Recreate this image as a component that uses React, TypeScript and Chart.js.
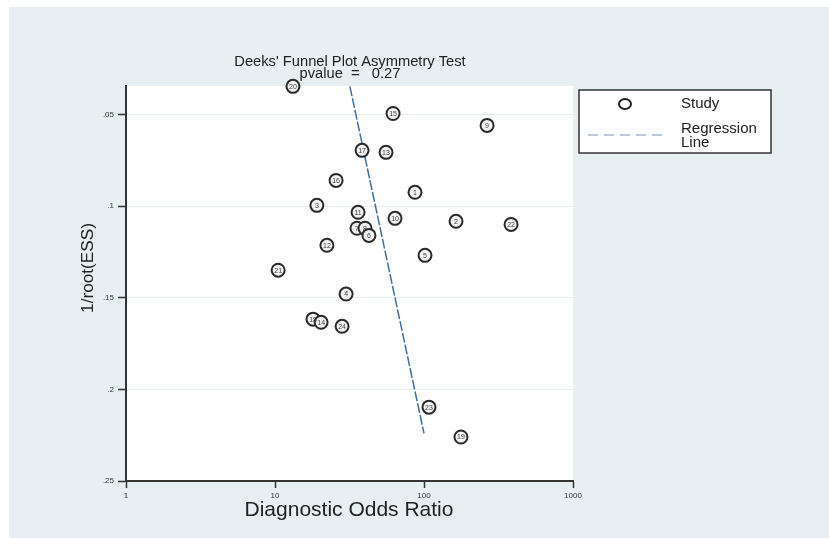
import React, { useEffect, useRef } from "react";
import { Chart, registerables } from "chart.js";

Chart.register(...registerables);

const studyIds = ["20", "15", "9", "17", "13", "16", "1", "3", "11", "10", "2", "22", "7", "8", "6", "12", "5", "21", "4", "18", "14", "24", "23", "19"];
const studyDOR = [13.2, 62, 265, 38.4, 55.6, 25.7, 87, 19.1, 36.1, 63.9, 164, 384, 35.5, 40.2, 42.7, 22.3, 101.6, 10.5, 30, 18, 20.4, 28.2, 108, 177];
const studyInvRootESS = [0.0347, 0.0495, 0.056, 0.0696, 0.0707, 0.086, 0.0925, 0.0996, 0.1034, 0.1067, 0.1083, 0.11, 0.1121, 0.1121, 0.116, 0.1214, 0.1269, 0.135, 0.148, 0.1617, 0.1634, 0.1656, 0.2097, 0.226];
const regressionDOR = [31.8, 100];
const regressionInvRootESS = [0.0347, 0.224];
const xTicks = [1, 10, 100, 1000];
const yTicks = [0.05, 0.1, 0.15, 0.2, 0.25];
const titleText = "Deeks' Funnel Plot Asymmetry Test";
const pvalueText = "pvalue  =   0.27";
const xTitle = "Diagnostic Odds Ratio";
const yTitle = "1/root(ESS)";

const FONT = "'Liberation Sans', Arial, sans-serif";

const decorPlugin = {
  id: "decor",
  beforeDraw(chart: any) {
    const { ctx, chartArea } = chart;
    ctx.save();
    ctx.fillStyle = "#ffffff";
    ctx.fillRect(chartArea.left, chartArea.top, chartArea.right - chartArea.left, chartArea.bottom - chartArea.top);
    ctx.restore();
  },
  afterDraw(chart: any) {
    const { ctx } = chart;
    ctx.save();
    const meta = chart.getDatasetMeta(0);
    ctx.fillStyle = "#444";
    ctx.font = `7px ${FONT}`;
    ctx.textAlign = "center";
    ctx.textBaseline = "middle";
    meta.data.forEach((el: any, i: number) => {
      ctx.fillText(studyIds[i], el.x, el.y + 0.5);
    });
    ctx.fillStyle = "#222";
    ctx.font = `14.7px ${FONT}`;
    ctx.fillText(titleText, 350, 62);
    ctx.fillText(pvalueText, 350, 74);
    ctx.font = `21px ${FONT}`;
    ctx.fillText(xTitle, 349, 510);
    ctx.save();
    ctx.translate(88, 268);
    ctx.rotate(-Math.PI / 2);
    ctx.font = `17.2px ${FONT}`;
    ctx.fillText(yTitle, 0, 0);
    ctx.restore();
    // legend
    ctx.fillStyle = "#ffffff";
    ctx.fillRect(579, 90, 192, 63);
    ctx.strokeStyle = "#333";
    ctx.lineWidth = 1.5;
    ctx.strokeRect(579, 90, 192, 63);
    ctx.beginPath();
    ctx.ellipse(625, 104, 6, 5, 0, 0, Math.PI * 2);
    ctx.lineWidth = 2;
    ctx.strokeStyle = "#222";
    ctx.stroke();
    ctx.beginPath();
    ctx.setLineDash([10, 6]);
    ctx.strokeStyle = "#b9c9d8";
    ctx.lineWidth = 2;
    ctx.moveTo(588, 135);
    ctx.lineTo(668, 135);
    ctx.stroke();
    ctx.setLineDash([]);
    ctx.fillStyle = "#222";
    ctx.font = `15px ${FONT}`;
    ctx.textAlign = "left";
    ctx.fillText(chart.data.datasets[0].label, 681, 104);
    ctx.fillText("Regression", 681, 129);
    ctx.fillText("Line", 681, 143);
    ctx.restore();
  },
};

export default function App() {
  const ref = useRef<HTMLCanvasElement | null>(null);
  useEffect(() => {
    if (!ref.current) return;
    const chart = new Chart(ref.current, {
      type: "scatter",
      data: {
        datasets: [
          {
            label: "Study",
            data: studyDOR.map((x, i) => ({ x, y: studyInvRootESS[i] })),
            pointRadius: 6.5,
            pointBorderWidth: 2,
            pointBorderColor: "#2a2a2a",
            pointBackgroundColor: "#f2f2f2",
            clip: false,
          } as any,
          {
            label: "Regression Line",
            type: "line",
            data: regressionDOR.map((x, i) => ({ x, y: regressionInvRootESS[i] })),
            borderColor: "#42709f",
            borderWidth: 1.5,
            borderDash: [10, 2],
            pointRadius: 0,
            showLine: true,
            clip: false,
          } as any,
        ],
      },
      options: {
        animation: false,
        responsive: false,
        maintainAspectRatio: false,
        layout: { padding: { top: 86, right: 256, left: 0, bottom: 0 } },
        plugins: { legend: { display: false }, tooltip: { enabled: false }, title: { display: false } },
        scales: {
          x: {
            type: "logarithmic",
            min: 1,
            max: 1000,
            afterBuildTicks: (s: any) => {
              s.ticks = xTicks.map((v) => ({ value: v }));
            },
            afterFit: (s: any) => {
              s.height = 57;
            },
            ticks: {
              callback: (v: any) => String(v),
              font: { size: 8, family: FONT },
              color: "#333",
              padding: 3,
              maxRotation: 0,
              autoSkip: false,
            },
            grid: { drawOnChartArea: false, tickLength: 7, tickColor: "#333", tickWidth: 1.5 },
            border: { color: "#333", width: 2 },
          },
          y: {
            type: "linear",
            reverse: true,
            min: 0.0345,
            max: 0.25,
            afterBuildTicks: (s: any) => {
              s.ticks = yTicks.map((v) => ({ value: v }));
            },
            afterFit: (s: any) => {
              s.width = 126;
            },
            ticks: {
              callback: (v: any) => String(Number(v).toFixed(2)).replace(/^0/, "").replace(/0$/, ""),
              font: { size: 8, family: FONT },
              color: "#333",
              padding: 4,
              autoSkip: false,
            },
            grid: { color: "#e6eeee", lineWidth: 1, tickLength: 8, tickColor: "#333", tickWidth: 1.5 },
            border: { color: "#333", width: 2 },
          },
        },
      },
      plugins: [decorPlugin],
    });
    return () => chart.destroy();
  }, []);
  return (
    <div style={{ position: "fixed", left: 0, top: 0, width: 829, height: 538, background: "#ffffff" }}>
      <div style={{ position: "absolute", left: 9, top: 7, right: 0, bottom: 0, background: "#e8eff2" }} />
      <canvas ref={ref} width={829} height={538} style={{ position: "absolute", left: 0, top: 0, width: 829, height: 538 }} />
    </div>
  );
}
